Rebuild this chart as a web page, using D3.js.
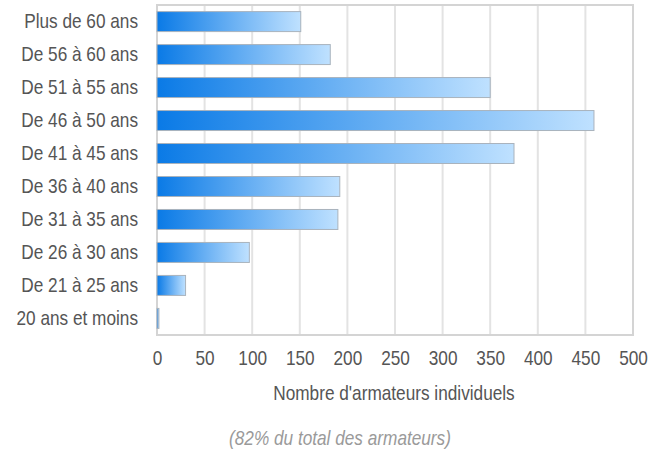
<!DOCTYPE html>
<html>
<head>
<meta charset="utf-8">
<script src="https://cdn.jsdelivr.net/npm/d3@7"></script>
<style>
  body { margin: 0; background: #fff; }
  svg { font-family: "Liberation Sans", Arial, sans-serif; }
</style>
</head>
<body>
<svg width="667" height="452"></svg>
<script>
const categories = ['Plus de 60 ans', 'De 56 à 60 ans', 'De 51 à 55 ans', 'De 46 à 50 ans',
  'De 41 à 45 ans', 'De 36 à 40 ans', 'De 31 à 35 ans', 'De 26 à 30 ans',
  'De 21 à 25 ans', '20 ans et moins']
const values = [151, 182, 350, 459, 375, 192, 190, 97, 30, 2]
const xTicks = [0, 50, 100, 150, 200, 250, 300, 350, 400, 450, 500]

const plotLeft = 157, plotRight = 633, plotTop = 5, plotBottom = 335
const fontFam = '"Liberation Sans", Arial, sans-serif'
const squeeze = 'scale(0.82,1)'   // the reference text is narrow

const svg = d3.select('svg')

const grad = svg.append('defs').append('linearGradient')
  .attr('id', 'barGrad')
  .attr('x1', '0%').attr('x2', '100%').attr('y1', '0%').attr('y2', '0%')
grad.append('stop').attr('offset', '0%').attr('stop-color', '#0a7ae6')
grad.append('stop').attr('offset', '100%').attr('stop-color', '#bfe1ff')

const x = d3.scaleLinear().domain([0, 500]).range([plotLeft, plotRight])
const y = d3.scaleBand().domain(categories).range([plotTop, plotBottom]).paddingInner(0.394).paddingOuter(0.2)

// gridlines
svg.append('g')
  .selectAll('line')
  .data(xTicks.slice(1, -1))
  .enter()
  .append('line')
  .attr('x1', d => x(d)).attr('x2', d => x(d))
  .attr('y1', plotTop).attr('y2', plotBottom)
  .attr('stroke', '#e3e3e3')
  .attr('stroke-width', 2)

// frame
svg.append('rect')
  .attr('x', plotLeft).attr('y', plotTop)
  .attr('width', plotRight - plotLeft).attr('height', plotBottom - plotTop)
  .attr('fill', 'none')
  .attr('stroke', '#d4d4d4')
  .attr('stroke-width', 2)

svg.append('g')
  .selectAll('rect')
  .data(values)
  .enter()
  .append('rect')
  .attr('x', x(0))
  .attr('y', (d, i) => y(categories[i]))
  .attr('width', d => x(d) - x(0))
  .attr('height', y.bandwidth())
  .attr('fill', 'url(#barGrad)')
  .attr('stroke', '#a9b3bd')
  .attr('stroke-width', 1)

// category labels
const axisY = d3.axisLeft(y).tickSize(0).tickPadding(0)
const gy = svg.append('g')
  .attr('transform', `translate(${plotLeft - 19}, 0)`)
  .call(axisY)
  .attr('font-family', fontFam)
  .attr('font-size', 21)
gy.select('.domain').remove()
gy.selectAll('text').attr('fill', '#555').attr('transform', squeeze)

// x tick labels
const axisX = d3.axisBottom(x).tickValues(xTicks).tickSize(0).tickPadding(0)
const gx = svg.append('g')
  .attr('transform', `translate(0, ${plotBottom + 15})`)
  .call(axisX)
  .attr('font-family', fontFam)
  .attr('font-size', 21)
gx.select('.domain').remove()
gx.selectAll('text').attr('fill', '#555').attr('transform', squeeze)

svg.append('g')
  .attr('transform', `translate(${(plotLeft + plotRight) / 2 - 1}, 400)`)
  .append('text')
  .attr('transform', squeeze)
  .attr('text-anchor', 'middle')
  .attr('font-size', 21)
  .attr('fill', '#555')
  .text("Nombre d'armateurs individuels")

svg.append('g')
  .attr('transform', 'translate(340, 445)')
  .append('text')
  .attr('transform', squeeze)
  .attr('text-anchor', 'middle')
  .attr('font-size', 21)
  .attr('font-style', 'italic')
  .attr('fill', '#9a9a9a')
  .text('(82% du total des armateurs)')
</script>
</body>
</html>
